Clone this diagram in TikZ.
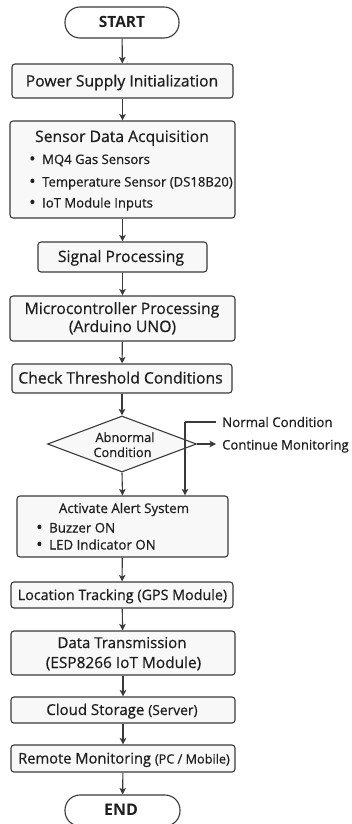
\documentclass[tikz,border=0pt]{standalone}
\usepackage{fontspec}
\setmainfont{Open Sans}[FakeBold=0.6]
\newfontfamily\plainos{Open Sans}
\usetikzlibrary{arrows.meta,shapes.geometric}
\definecolor{ln}{HTML}{3A3A3A}
\definecolor{bx}{HTML}{F8F8F8}
\definecolor{tx}{HTML}{1E1E1E}
\newcommand{\fs}[1]{\fontsize{#1}{#1}\selectfont}
\newcommand{\bul}{\makebox[13pt][l]{\raisebox{-0.6pt}{\fontsize{17}{17}\selectfont •}}}
\begin{document}
\begin{tikzpicture}[x=1pt,y=-1pt,
  box/.style={draw=ln,fill=bx,line width=1.1pt,rounded corners=3pt,inner sep=0pt},
  term/.style={draw=ln,fill=white,line width=1.1pt,rounded corners=15pt,inner sep=0pt},
  arr/.style={draw=ln,line width=1.1pt,-{Stealth[length=6.5pt,width=6.5pt,inset=1.5pt]}},
  lin/.style={draw=ln,line width=1.1pt},
  txt/.style={text=tx,inner sep=0pt,anchor=base},
  txl/.style={text=tx,inner sep=0pt,anchor=base west},
  main/.style={font=\fs{15.7}},
  sub/.style={font=\fs{13.1}},
  side/.style={font=\fs{13.3}}]
\useasboundingbox (0,0) rectangle (352,824);
\fill[white] (0,0) rectangle (352,824);

% boxes
\node[term,minimum width=114pt,minimum height=31pt] (start) at (122,22.5) {};
\node[box,minimum width=221pt,minimum height=34pt] (ps) at (122.5,81) {};
\node[box,minimum width=225pt,minimum height=97pt] (sd) at (122.5,169.5) {};
\node[box,minimum width=169pt,minimum height=30pt] (sp) at (122.5,257) {};
\node[box,minimum width=225pt,minimum height=45pt] (mc) at (122.5,318.5) {};
\node[box,minimum width=220pt,minimum height=29pt] (ct) at (122,378.5) {};
\node[diamond,draw=ln,fill=bx,line width=1.1pt,inner sep=0pt,minimum width=149pt,minimum height=56pt] (dia) at (122,444) {};
\node[box,minimum width=211pt,minimum height=61pt] (al) at (122.5,526.5) {};
\node[box,minimum width=222pt,minimum height=26pt] (lt) at (122,595) {};
\node[box,minimum width=224pt,minimum height=44pt] (dt) at (123,653) {};
\node[box,minimum width=224pt,minimum height=26pt] (cs) at (123,710) {};
\node[box,minimum width=224pt,minimum height=27pt] (rm) at (123,758.5) {};
\node[term,minimum width=115pt,minimum height=31pt] (end) at (122.5,810.5) {};

% texts
\node[txt,font=\plainos\bfseries\fs{15.5}] (tstart) at (122,27.5) {START};
\node[txt,main] (tps) at (122,86.5) {Power Supply Initialization};
\node[txt,main] (tsd) at (122,142) {Sensor Data Acquisition};
\node[txl,sub] (b1) at (29,164) {\bul MQ4 Gas Sensors};
\node[txl,sub] (b2) at (29,186.5) {\bul Temperature Sensor (DS18B20)};
\node[txl,sub] (b3) at (29,207.5) {\bul IoT Module Inputs};
\node[txt,main] (tsp) at (121,262) {Signal Processing};
\node[txt,main] (tmc1) at (122,314) {Microcontroller Processing};
\node[txt,main] (tmc2) at (122.5,332) {(Arduino UNO)};
\node[txt,main] (tct) at (120.5,383.5) {Check Threshold Conditions};
\node[txt,font=\fs{12.8}] (tab1) at (125,442) {Abnormal};
\node[txt,font=\fs{12.8}] (tab2) at (122.5,457) {Condition};
\node[txl,side] (tnc) at (222,427) {Normal Condition};
\node[txl,font=\fs{13.1}] (tcm) at (222,449.5) {Continue Monitoring};
\node[txt,side] (tal) at (124,513) {Activate Alert System};
\node[txl,side] (b4) at (36,532.5) {\bul Buzzer ON};
\node[txl,side] (b5) at (36,549.5) {\bul LED Indicator ON};
\node[txt,font=\fs{14.3}] (tlt) at (122.5,600) {Location Tracking (GPS Module)};
\node[txt,font=\fs{15}] (tdt1) at (122,648) {Data Transmission};
\node[txt,font=\fs{15.4}] (tdt2) at (123.5,668) {(ESP8266 IoT Module)};
\node[txt,font=\fs{15}] (tcs) at (122,715) {Cloud Storage {\fs{13.8}(Server)}};
\node[txt,font=\fs{14.7}] (trm) at (124,763.5) {Remote Monitoring {\fs{12.7}(PC / Mobile)}};
\node[txt,font=\plainos\bfseries\fs{16}] (tend) at (121,815.5) {END};

% connectors
\draw[arr] (start) -- (ps);
\draw[arr] (ps) -- (sd);
\draw[arr] (sd) -- (sp);
\draw[arr] (sp) -- (mc);
\draw[arr] (mc) -- (ct);
\draw[arr] (ct.south) -- (dia.north);
\draw[arr] (dia.south) -- (al.north);
\draw[arr] (dia.east) -- ([xshift=-6pt]tcm.west |- dia.east);
\coordinate (nk) at (185,422);
\draw[lin] ([xshift=-6pt]tnc.west |- nk) -- (nk);
\draw[arr] (nk) -- (al.north -| nk);
\draw[arr] (al) -- (lt);
\draw[arr] (lt) -- (dt);
\draw[arr] (dt) -- (cs);
\draw[arr] (cs) -- (rm);
\draw[arr] (rm) -- (end);
\end{tikzpicture}
\end{document}
